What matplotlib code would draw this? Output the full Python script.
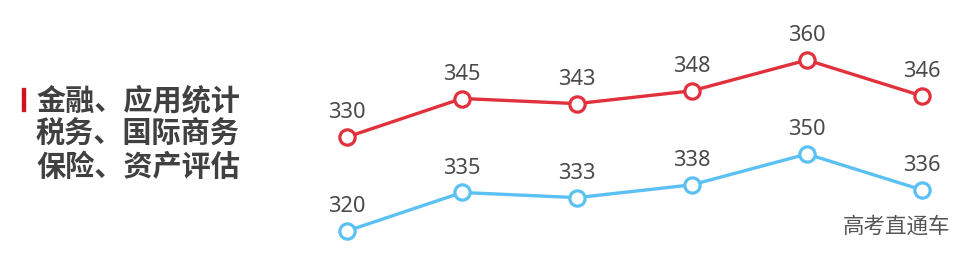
import matplotlib
matplotlib.use("Agg")
import matplotlib.pyplot as plt

plt.rcParams["font.family"] = ["Noto Sans CJK SC", "DejaVu Sans"]

# data
positions = [0, 1, 2, 3, 4, 5]
red_values = [330, 345, 343, 348, 360, 346]
blue_values = [320, 335, 333, 338, 350, 336]
majors = ["金融、应用统计", "税务、国际商务", "保险、资产评估"]
watermark = "高考直通车"

RED = "#e1313d"
BLUE = "#5bc0f2"
LABEL = "#4a4a4a"

fig = plt.figure(figsize=(9.79, 2.67), dpi=100)
W, H = 979, 267

ax_red = fig.add_axes([0, 0, 1, 1])
ax_blue = fig.add_axes([0, 0, 1, 1])
for ax in (ax_red, ax_blue):
    ax.set_xlim(-347 / 115, 5 + 57 / 115)
    ax.axis("off")
    ax.patch.set_alpha(0)

# px per unit on y
k = 77 / 30
ax_red.set_ylim(330 - (H - 137) / k, 360 + 60 / k)
ax_blue.set_ylim(320 - (H - 231) / k, 350 + 154 / k)

for ax, vals, col in ((ax_red, red_values, RED), (ax_blue, blue_values, BLUE)):
    ax.plot(positions, vals, color=col, lw=2.4, marker="o", ms=11,
            mfc="white", mec=col, mew=2.3, solid_capstyle="round", zorder=3)
    for x, v in zip(positions, vals):
        ax.annotate(str(v), (x, v), xytext=(0, 10), textcoords="offset points",
                    ha="center", va="bottom", fontsize=15.7, color=LABEL,
                    family=["Noto Sans", "DejaVu Sans"])

# left label block
fig.patches.append(plt.Rectangle((22 / W, 1 - 111 / H), 3 / W, 23 / H,
                                 transform=fig.transFigure, color="#d0121b"))
for i, line in enumerate(majors):
    fig.text(36 / W, 1 - (100 + 33.5 * i) / H, line, ha="left", va="center",
             fontsize=21, fontweight="bold", color="#404040")

fig.text(950 / W, 1 - 227 / H, watermark, ha="right", va="center",
         fontsize=15.5, color="#555555")

fig.savefig("out.png", dpi=100, facecolor="white")
